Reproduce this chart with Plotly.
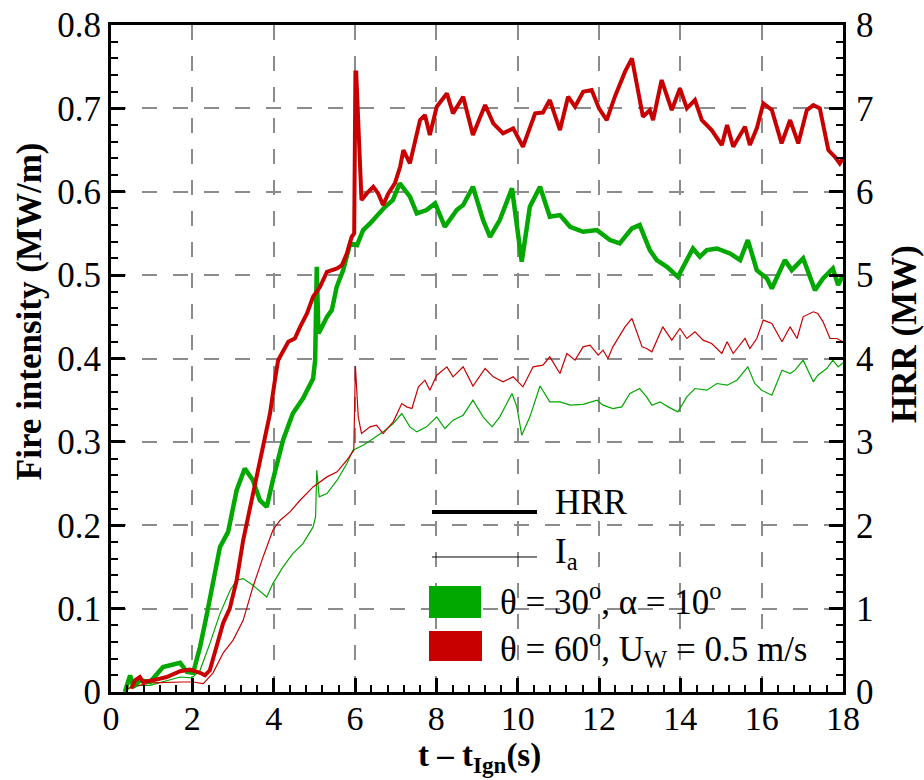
import plotly.graph_objects as go

# ---------------- data ----------------
# HRR (MW), theta=60, Uw=0.5 (red, thick)
t_hrr_red = [0.50, 0.59, 0.71, 0.79, 1.03, 1.37, 1.70, 1.94, 2.19, 2.31, 2.43, 2.60, 2.76, 2.92, 3.09, 3.25,
             3.42, 3.58, 3.74, 3.91, 4.03, 4.11, 4.36, 4.52, 4.65, 4.82, 4.97, 5.14, 5.31, 5.56, 5.68, 5.80,
             5.92, 5.98, 6.01, 6.03, 6.10, 6.16, 6.29, 6.45, 6.57, 6.69, 6.82, 6.98, 7.11, 7.19, 7.35, 7.60,
             7.72, 7.84, 8.01, 8.26, 8.41, 8.66, 8.90, 9.20, 9.40, 9.64, 9.89, 10.13, 10.43, 10.62, 10.79,
             11.04, 11.24, 11.41, 11.61, 11.82, 12.00, 12.19, 12.39, 12.64, 12.81, 13.08, 13.25, 13.33, 13.54,
             13.79, 13.99, 14.16, 14.36, 14.53, 14.77, 15.02, 15.15, 15.30, 15.59, 15.71, 15.88, 16.04, 16.25,
             16.49, 16.70, 16.90, 17.11, 17.27, 17.43, 17.64, 17.80, 17.92, 18.00]
hrr_red = [0.04, 0.14, 0.18, 0.12, 0.14, 0.18, 0.25, 0.27, 0.23, 0.20, 0.26, 0.54, 0.83, 1.00, 1.34, 1.82,
           2.22, 2.58, 2.94, 3.34, 3.74, 3.98, 4.20, 4.24, 4.38, 4.54, 4.74, 4.86, 5.04, 5.08, 5.12, 5.26,
           5.46, 5.50, 7.43, 7.43, 6.60, 5.90, 5.98, 6.06, 5.98, 5.84, 5.98, 6.10, 6.30, 6.50, 6.34, 6.86,
           6.92, 6.68, 7.02, 7.18, 6.94, 7.14, 6.68, 7.04, 6.82, 6.70, 6.76, 6.54, 6.94, 6.95, 7.10,
           6.74, 7.14, 7.02, 7.20, 7.22, 7.00, 6.86, 7.14, 7.44, 7.60, 6.90, 6.98, 6.86, 7.34,
           6.98, 7.24, 7.00, 7.10, 6.86, 6.74, 6.56, 6.80, 6.54, 6.78, 6.56, 6.76, 7.06, 6.98,
           6.58, 6.86, 6.58, 6.98, 7.04, 7.00, 6.50, 6.42, 6.34, 6.40]

# HRR (MW), theta=30, alpha=10 (green, thick)
t_hrr_green = [0.34, 0.47, 0.55, 0.71, 0.96, 1.28, 1.70, 1.87, 2.02, 2.19, 2.36, 2.51, 2.68, 2.88, 3.09, 3.29,
               3.49, 3.66, 3.83, 3.98, 4.23, 4.47, 4.72, 4.97, 5.02, 5.06, 5.10, 5.19, 5.31, 5.43, 5.55, 5.71,
               5.88, 6.05, 6.20, 6.37, 6.54, 6.74, 6.93, 7.10, 7.35, 7.52, 7.76, 7.97, 8.21, 8.50, 8.66, 8.90,
               9.15, 9.32, 9.56, 9.86, 10.10, 10.30, 10.55, 10.79, 11.04, 11.29, 11.61, 11.95, 12.27, 12.51,
               12.81, 13.00, 13.25, 13.42, 13.67, 13.94, 14.31, 14.48, 14.65, 14.90, 15.22, 15.47, 15.66,
               15.88, 16.13, 16.25, 16.57, 16.74, 17.02, 17.31, 17.51, 17.75, 17.88, 18.00]
hrr_green = [0.00, 0.20, 0.06, 0.14, 0.12, 0.30, 0.35, 0.24, 0.23, 0.54, 0.94, 1.34, 1.74, 1.92, 2.42, 2.68,
             2.54, 2.30, 2.22, 2.54, 3.02, 3.34, 3.52, 3.76, 3.98, 5.10, 4.30, 4.38, 4.50, 4.58, 4.86, 5.06,
             5.38, 5.36, 5.54, 5.62, 5.72, 5.82, 5.90, 6.10, 5.94, 5.74, 5.78, 5.86, 5.58, 5.78, 5.84, 6.06,
             5.66, 5.46, 5.66, 6.04, 5.16, 5.82, 6.06, 5.70, 5.72, 5.58, 5.52, 5.54, 5.42, 5.38,
             5.56, 5.60, 5.30, 5.18, 5.10, 4.98, 5.32, 5.22, 5.30, 5.32, 5.26, 5.18, 5.42,
             5.06, 4.96, 4.84, 5.18, 5.06, 5.20, 4.82, 4.96, 5.08, 4.88, 5.00]

# Fire intensity Ia (MW/m), theta=60, Uw=0.5 (red, thin)
t_ia_red = [0.39, 0.96, 1.77, 2.02, 2.27, 2.51, 2.76, 3.00, 3.25, 3.49, 3.74, 3.98, 4.16, 4.40, 4.65, 4.97,
            5.31, 5.56, 5.80, 5.97, 6.01, 6.08, 6.16, 6.37, 6.53, 6.69, 6.94, 7.15, 7.27, 7.40, 7.56, 7.72,
            7.84, 8.01, 8.26, 8.41, 8.66, 8.90, 9.20, 9.40, 9.64, 9.89, 10.13, 10.38, 10.62, 10.79, 11.04,
            11.21, 11.41, 11.61, 11.78, 11.98, 12.10, 12.22, 12.34, 12.64, 12.81, 13.06, 13.17, 13.30,
            13.57, 13.79, 13.99, 14.16, 14.36, 14.56, 14.77, 15.02, 15.15, 15.30, 15.59, 15.71, 15.88,
            16.04, 16.25, 16.50, 16.70, 16.87, 17.02, 17.27, 17.38, 17.51, 17.68, 17.85, 18.00]
ia_red = [0.004, 0.011, 0.012, 0.012, 0.010, 0.023, 0.047, 0.062, 0.086, 0.126, 0.162, 0.194, 0.206, 0.216,
          0.230, 0.246, 0.258, 0.264, 0.278, 0.290, 0.391, 0.330, 0.310, 0.318, 0.320, 0.310, 0.324, 0.346,
          0.342, 0.340, 0.366, 0.374, 0.362, 0.380, 0.390, 0.378, 0.390, 0.367, 0.388, 0.378, 0.372, 0.378,
          0.366, 0.390, 0.392, 0.402, 0.382, 0.406, 0.398, 0.414, 0.416, 0.404, 0.410, 0.400, 0.414, 0.438,
          0.448, 0.414, 0.412, 0.408, 0.438, 0.422, 0.436, 0.424, 0.432, 0.422, 0.418, 0.406, 0.420, 0.406,
          0.424, 0.412, 0.424, 0.446, 0.442, 0.420, 0.438, 0.424, 0.450, 0.456, 0.454, 0.444, 0.424, 0.424,
          0.420]

# Fire intensity Ia (MW/m), theta=30, alpha=10 (green, thin)
t_ia_green = [0.39, 0.55, 0.96, 1.70, 1.99, 2.19, 2.43, 2.68, 2.93, 3.09, 3.25, 3.49, 3.83, 3.98, 4.23, 4.47,
              4.72, 4.97, 5.03, 5.06, 5.12, 5.31, 5.56, 5.80, 5.95, 6.20, 6.45, 6.69, 6.94, 7.15, 7.35, 7.52,
              7.76, 8.01, 8.21, 8.41, 8.66, 8.90, 9.15, 9.37, 9.56, 9.86, 9.98, 10.10, 10.30, 10.55, 10.79,
              11.04, 11.29, 11.61, 11.95, 12.10, 12.34, 12.56, 12.76, 13.00, 13.17, 13.30, 13.50, 13.70,
              13.94, 14.16, 14.36, 14.65, 14.90, 15.15, 15.39, 15.66, 15.83, 16.00, 16.25, 16.50, 16.70,
              16.82, 17.02, 17.27, 17.38, 17.60, 17.75, 17.88, 18.00]
ia_green = [0.002, 0.008, 0.008, 0.018, 0.017, 0.026, 0.058, 0.094, 0.122, 0.134, 0.136, 0.128, 0.114, 0.130,
            0.150, 0.166, 0.178, 0.198, 0.210, 0.266, 0.234, 0.238, 0.254, 0.274, 0.290, 0.296, 0.304, 0.312,
            0.322, 0.334, 0.318, 0.312, 0.318, 0.330, 0.316, 0.326, 0.332, 0.350, 0.330, 0.318, 0.330, 0.358,
            0.342, 0.308, 0.330, 0.367, 0.348, 0.348, 0.344, 0.345, 0.350, 0.344, 0.340, 0.342, 0.358, 0.364,
            0.354, 0.344, 0.348, 0.342, 0.336, 0.354, 0.364, 0.362, 0.370, 0.368, 0.374, 0.390, 0.370, 0.362,
            0.356, 0.386, 0.382, 0.386, 0.398, 0.372, 0.380, 0.388, 0.398, 0.390, 0.395]

x_ticks = [0, 2, 4, 6, 8, 10, 12, 14, 16, 18]
y_ticks = [0, 0.1, 0.2, 0.3, 0.4, 0.5, 0.6, 0.7, 0.8]
y2_ticks = [0, 1, 2, 3, 4, 5, 6, 7, 8]

GREEN = "#00A800"
RED = "#C80000"
FONT = "'Liberation Serif', 'Times New Roman', Times, 'DejaVu Serif', serif"

fig = go.Figure()
fig.add_trace(go.Scatter(x=t_ia_green, y=ia_green, mode="lines", line=dict(color=GREEN, width=1.2),
                         yaxis="y", showlegend=False))
fig.add_trace(go.Scatter(x=t_ia_red, y=ia_red, mode="lines", line=dict(color=RED, width=1.2),
                         yaxis="y", showlegend=False))
fig.add_trace(go.Scatter(x=t_hrr_green, y=hrr_green, mode="lines", line=dict(color=GREEN, width=4.5),
                         yaxis="y2", showlegend=False))
fig.add_trace(go.Scatter(x=t_hrr_red, y=hrr_red, mode="lines", line=dict(color=RED, width=4),
                         yaxis="y2", showlegend=False))

tickfont = dict(family=FONT, size=35, color="black")
xtickfont = dict(family=FONT, size=34, color="black")
grid = dict(showgrid=True, gridcolor="#8c8c8c", gridwidth=1.5, griddash="15px,16px")

fig.update_layout(
    width=924, height=780,
    margin=dict(l=111, r=81, t=25, b=88),
    plot_bgcolor="white", paper_bgcolor="white",
    font=dict(family=FONT),
    showlegend=False,
    xaxis=dict(range=[0, 18], tickvals=x_ticks, ticktext=[str(v) for v in x_ticks],
               ticks="inside", ticklen=14, tickwidth=3, tickcolor="black", ticklabelstandoff=-6,
               minor=dict(dtick=0.4, ticks="inside", ticklen=7, tickwidth=1.5, tickcolor="black", showgrid=False),
               showline=True, linewidth=3, linecolor="black", mirror=True,
               tickfont=xtickfont, zeroline=False, automargin=False, **grid),
    yaxis=dict(range=[0, 0.8], tickvals=y_ticks, ticktext=["0", "0.1", "0.2", "0.3", "0.4", "0.5", "0.6", "0.7", "0.8"],
               ticks="inside", ticklen=14, tickwidth=3, tickcolor="black",
               minor=dict(dtick=0.02, ticks="inside", ticklen=7, tickwidth=1.5, tickcolor="black", showgrid=False),
               showline=True, linewidth=3, linecolor="black",
               tickfont=tickfont, zeroline=False, automargin=False, **grid),
    yaxis2=dict(range=[0, 8], tickvals=y2_ticks, ticktext=[str(v) for v in y2_ticks],
                overlaying="y", side="right", ticklabelstandoff=3,
                ticks="inside", ticklen=14, tickwidth=3, tickcolor="black",
                minor=dict(dtick=0.2, ticks="inside", ticklen=7, tickwidth=1.5, tickcolor="black", showgrid=False),
                showline=True, linewidth=3, linecolor="black", showgrid=False,
                tickfont=tickfont, zeroline=False, automargin=False),
)

# axis titles
title_font = dict(family=FONT, size=35, color="black")
fig.add_annotation(text="<b>Fire intensity (MW/m)</b>", xref="paper", yref="paper", x=-0.112, y=0.571,
                   textangle=-90, showarrow=False, font=title_font, xanchor="center", yanchor="middle")
fig.add_annotation(text="<b>HRR (MW)</b>", xref="paper", yref="paper", x=1.085, y=0.537,
                   textangle=-90, showarrow=False, font=title_font, xanchor="center", yanchor="middle")
fig.add_annotation(text="<b>t – t<sub>Ign</sub>(s)</b>", xref="paper", yref="paper", x=0.504, y=-0.132,
                   showarrow=False, font=dict(family=FONT, size=33, color="black"),
                   xanchor="center", yanchor="bottom")

# legend (drawn manually)
leg_font = dict(family=FONT, size=35, color="black")
fig.add_shape(type="line", xref="paper", yref="paper", x0=0.4385, x1=0.582, y0=0.270, y1=0.270,
              line=dict(color="black", width=4))
fig.add_shape(type="line", xref="paper", yref="paper", x0=0.4385, x1=0.582, y0=0.2024, y1=0.2024,
              line=dict(color="black", width=1))
fig.add_shape(type="rect", xref="paper", yref="paper", x0=0.4344, x1=0.5055, y0=0.111, y1=0.159,
              fillcolor=GREEN, line=dict(width=0))
fig.add_shape(type="rect", xref="paper", yref="paper", x0=0.4344, x1=0.5068, y0=0.0465, y1=0.0915,
              fillcolor=RED, line=dict(width=0))
fig.add_annotation(text="HRR", xref="paper", yref="paper", x=0.6038, y=0.2834, showarrow=False,
                   font=leg_font, xanchor="left", yanchor="middle")
fig.add_annotation(text="I<sub>a</sub>", xref="paper", yref="paper", x=0.6038, y=0.207, showarrow=False,
                   font=leg_font, xanchor="left", yanchor="middle")
fig.add_annotation(text="θ = 30<sup>o</sup>, α = 10<sup>o</sup>", xref="paper", yref="paper", x=0.5287, y=0.138,
                   showarrow=False, font=leg_font, xanchor="left", yanchor="middle")
fig.add_annotation(text="θ = 60<sup>o</sup>, U<sub>W</sub> = 0.5 m/s", xref="paper", yref="paper", x=0.5287, y=0.065,
                   showarrow=False, font=leg_font, xanchor="left", yanchor="middle")

fig.write_html("out.html")
